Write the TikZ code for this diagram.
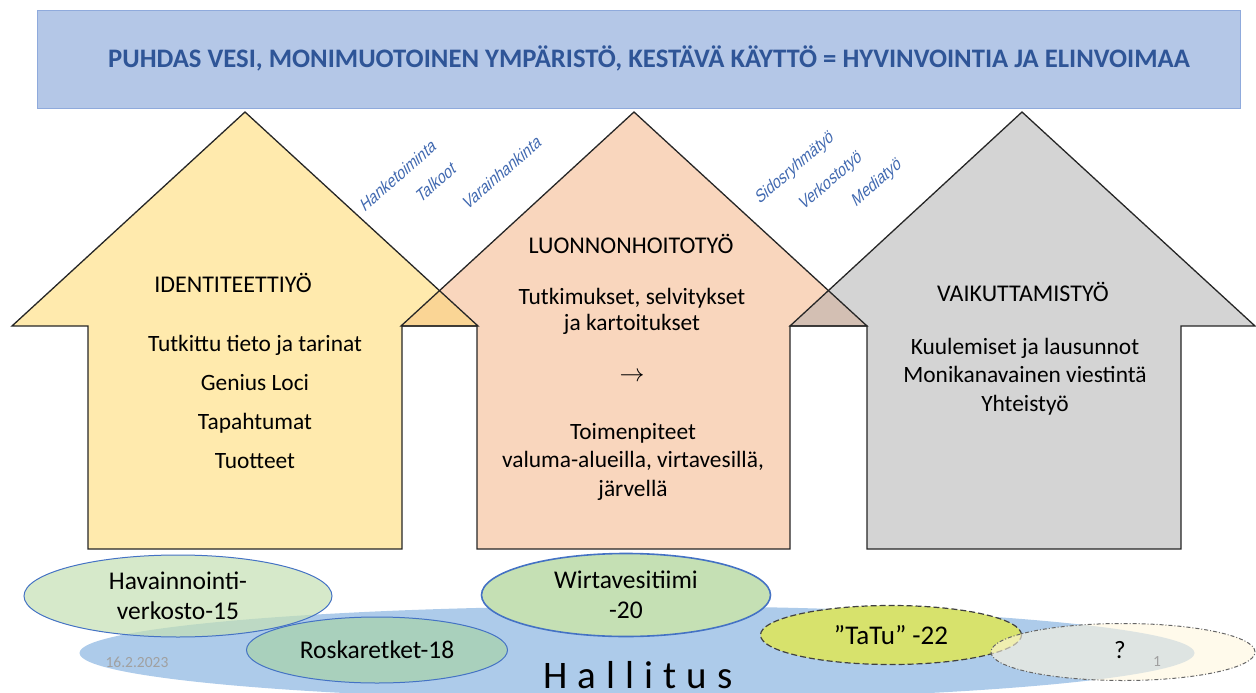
\documentclass[tikz,border=0pt]{standalone}
\usepackage{fontspec}
\setmainfont{Carlito}
\newfontfamily\arialfont{Liberation Sans}
\usetikzlibrary{shapes.geometric}
\definecolor{bannerfill}{HTML}{B4C7E7}
\definecolor{bannerline}{HTML}{8FAADC}
\definecolor{titleblue}{HTML}{2F5597}
\definecolor{labelblue}{HTML}{4169B0}
\definecolor{yellowA}{HTML}{FFEAAD}
\definecolor{peachA}{HTML}{F9D6BD}
\definecolor{grayA}{HTML}{D4D4D4}
\definecolor{ovYP}{HTML}{FAD595}
\definecolor{ovPG}{HTML}{D3BFB3}
\definecolor{arrowline}{HTML}{262626}
\definecolor{hallblue}{HTML}{ADCBEA}
\definecolor{greenA}{HTML}{C5E0B4}
\definecolor{greenB}{HTML}{A9D0BC}
\definecolor{ellline}{HTML}{4472C4}
\definecolor{tatufill}{HTML}{D7E26C}
\definecolor{creamfill}{HTML}{FFF6DE}
\definecolor{dategray}{HTML}{A0A0A0}
\begin{document}
\begin{tikzpicture}[x=1pt,y=-1pt,
  arrowedge/.style={draw=arrowline,line width=1.3pt,line join=miter},
  bodytext/.style={font=\fontsize{23.4}{28}\selectfont,align=center,inner sep=0pt},
  headtext/.style={font=\fontsize{24}{28}\selectfont,inner sep=0pt},
  sidelabel/.style={font=\arialfont\fontsize{17}{19}\selectfont,text=labelblue,rotate=41,xslant=0.3,xscale=0.88,inner sep=0pt},
  bubble/.style={ellipse,inner sep=0pt,align=center,font=\fontsize{25.5}{30}\selectfont}
]
\useasboundingbox (0,0) rectangle (1256,693);
% banner
\node[draw=bannerline,fill=bannerfill,line width=0.8pt,anchor=north west,minimum width=1203pt,minimum height=98pt,inner sep=0pt] (banner) at (37,10) {};
\node[font=\bfseries\fontsize{26.7}{30}\selectfont,text=titleblue,inner sep=0pt] (title) at (649,58) {PUHDAS VESI, MONIMUOTOINEN YMPÄRISTÖ, KESTÄVÄ KÄYTTÖ = HYVINVOINTIA JA ELINVOIMAA};
% arrows fills
\path[fill=yellowA] (88,549) -- (88,326) -- (12,326) -- (245,112) -- (478,326) -- (402,326) -- (402,549) -- cycle;
\path[fill=peachA] (477,549) -- (477,326) -- (401,326) -- (634,112) -- (867,326) -- (790,326) -- (790,549) -- cycle;
\path[fill=grayA] (867,549) -- (867,326) -- (790,326) -- (1022,112) -- (1255,326) -- (1181,326) -- (1181,549) -- cycle;
\path[fill=ovYP] (401,326) -- (439.5,290.6) -- (478,326) -- cycle;
\path[fill=ovPG] (790,326) -- (828.5,290.6) -- (867,326) -- cycle;
% arrow outlines
\draw[arrowedge] (88,549) -- (88,326) -- (12,326) -- (245,112) -- (478,326) -- (402,326) -- (402,549) -- cycle;
\draw[arrowedge] (477,549) -- (477,326) -- (401,326) -- (634,112) -- (867,326) -- (790,326) -- (790,549) -- cycle;
\draw[arrowedge] (867,549) -- (867,326) -- (790,326) -- (1022,112) -- (1255,326) -- (1181,326) -- (1181,549) -- cycle;
% side labels
\node[sidelabel] (hank) at (398,175) {Hanketoiminta};
\node[sidelabel] (talk) at (436,182) {Talkoot};
\node[sidelabel] (vara) at (502,172) {Varainhankinta};
\node[sidelabel] (sido) at (795,168) {Sidosryhmätyö};
\node[sidelabel] (verk) at (831,181) {Verkostotyö};
\node[sidelabel] (medi) at (877,183) {Mediatyö};
% arrow texts
\node[headtext] (ident) at (233,283) {IDENTITEETTIYÖ};
\node[bodytext,font=\fontsize{23.4}{39}\selectfont] (identbody) at (255,402) {Tutkittu tieto ja tarinat\\Genius Loci\\Tapahtumat\\Tuotteet};
\node[headtext] (luon) at (631,244) {LUONNONHOITOTYÖ};
\node[bodytext,font=\fontsize{23.4}{26}\selectfont] (luonA) at (632,311) {Tutkimukset, selvitykset\\ja kartoitukset};
\node[bodytext] (luonarrow) at (632,377) {$\rightarrow$};
\node[bodytext,font=\fontsize{23.4}{28.5}\selectfont] (luonB) at (633,461.5) {Toimenpiteet\\valuma-alueilla, virtavesillä,\\järvellä};
\node[headtext] (vaik) at (1023,292) {VAIKUTTAMISTYÖ};
\node[bodytext,font=\fontsize{23.4}{28.5}\selectfont] (vaikbody) at (1025,376.5) {Kuulemiset ja lausunnot\\Monikanavainen viestintä\\Yhteistyö};
% bottom ellipses
\node[ellipse,fill=hallblue,minimum width=1115pt,minimum height=94pt,inner sep=0pt] (hallel) at (637,653) {};
\node[bubble,draw=ellline,line width=1pt,fill=greenA,fill opacity=0.7,text opacity=1,minimum width=308pt,minimum height=82pt] (hava) at (178,596) {Havainnointi-\\verkosto-15};
\node[bubble,draw=ellline,line width=1pt,fill=greenB,minimum width=261pt,minimum height=66pt] (rosk) at (377,650) {Roskaretket-18};
\node[bubble,draw=ellline,line width=1.6pt,fill=greenA,minimum width=289pt,minimum height=83pt] (wirt) at (626,595) {Wirtavesitiimi\\-20};
\node[bubble,font=\fontsize{27}{30}\selectfont,draw=black!75,line width=1.2pt,dash pattern=on 6pt off 3pt,fill=tatufill,minimum width=261pt,minimum height=59pt] (tatu) at (891,635) {”TaTu” -22};
\node[ellipse,draw=black!60,line width=1pt,dash pattern=on 4pt off 2pt on 1pt off 2pt,fill=creamfill,fill opacity=0.6,minimum width=264pt,minimum height=57pt,inner sep=0pt] (quest) at (1123,652) {};
\node[font=\fontsize{25}{28}\selectfont,inner sep=0pt] (qmark) at (1120,650) {?};
\node[font=\fontsize{39}{44}\selectfont\addfontfeature{LetterSpace=26},anchor=base west,inner sep=0pt] (hall) at (543,688) {Hallitus};
\node[font=\fontsize{15.5}{17}\selectfont,text=dategray,inner sep=0pt] (date) at (137,662) {16.2.2023};
\node[font=\fontsize{15.5}{17}\selectfont,text=dategray,inner sep=0pt] (pagenum) at (1157,662) {1};
\end{tikzpicture}
\end{document}
